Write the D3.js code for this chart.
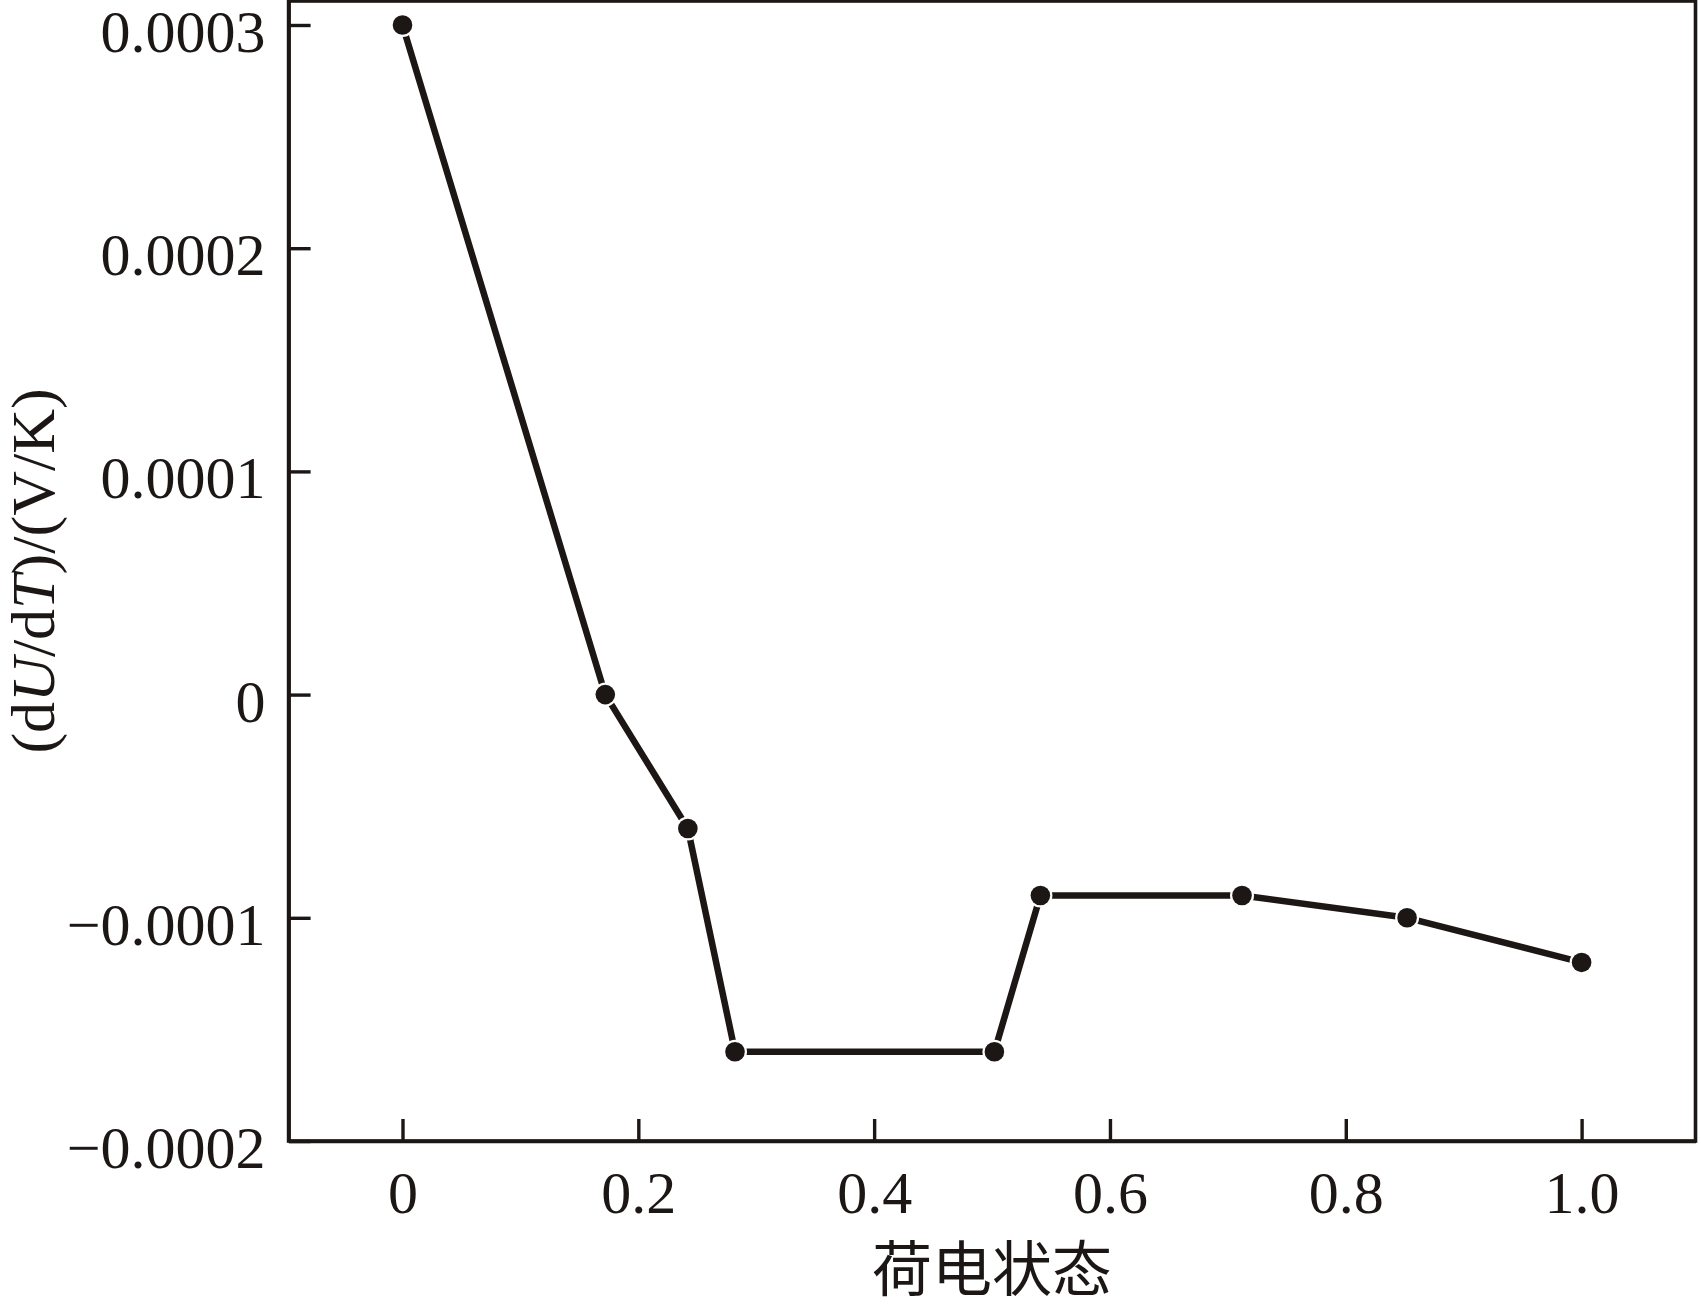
<!DOCTYPE html>
<html>
<head>
<meta charset="utf-8">
<script src="https://cdn.jsdelivr.net/npm/d3@7"></script>
<style>
  html, body { margin: 0; padding: 0; background: #fff; }
  svg { display: block; }
  .axis path, .axis line { stroke: #1c1715; }
  .axis text { font-family: "Liberation Serif", "DejaVu Serif", serif; fill: #1c1715; }
</style>
</head>
<body>
<div id="chart"></div>
<script>
// state of charge vs dU/dT
const soc = [0, 0.172, 0.242, 0.282, 0.502, 0.541, 0.712, 0.852, 1.0];
const dUdT = [0.0003, 0, -0.00006, -0.00016, -0.00016, -0.00009, -0.00009, -0.0001, -0.00012];

const xTicks = [0, 0.2, 0.4, 0.6, 0.8, 1.0];
const xTickLabels = ['0', '0.2', '0.4', '0.6', '0.8', '1.0'];
const yTicks = [0.0003, 0.0002, 0.0001, 0, -0.0001, -0.0002];
const yTickLabels = ['0.0003', '0.0002', '0.0001', '0', '\u22120.0001', '\u22120.0002'];

const xTitle = '荷电状态';

function createChart() {
  const width = 1701;
  const height = 1310;
  const margin = { top: 1, right: 5.5, bottom: 169, left: 288.6 };
  const ink = '#1c1715';

  const usable = {
    left: margin.left,
    right: width - margin.right,
    top: margin.top,
    bottom: height - margin.bottom,
  };

  const xScale = d3.scaleLinear().domain([-0.0966, 1.0966]).range([usable.left, usable.right]);
  const yScale = d3.scaleLinear().domain([-0.0002, 0.00031075]).range([usable.bottom, usable.top]);

  const svg = d3.select('#chart')
    .append('svg')
    .attr('width', width)
    .attr('height', height)
    .attr('viewBox', `0 0 ${width} ${height}`);

  // frame (top and right sides)
  svg.append('rect')
    .attr('x', usable.left)
    .attr('y', usable.top)
    .attr('width', usable.right - usable.left)
    .attr('height', usable.bottom - usable.top)
    .attr('fill', 'none')
    .attr('stroke', ink)
    .attr('stroke-width', 3.6);

  // axes, ticks pointing inward
  const xAxis = d3.axisBottom(xScale)
    .tickValues(xTicks)
    .tickFormat((d, i) => xTickLabels[i])
    .tickSizeInner(-22)
    .tickSizeOuter(0)
    .tickPadding(29);

  const gx = svg.append('g')
    .attr('class', 'axis')
    .attr('transform', `translate(0, ${usable.bottom})`)
    .call(xAxis);
  gx.select('.domain').attr('stroke-width', 3.6);
  gx.selectAll('.tick line').attr('stroke-width', 3.4);
  gx.selectAll('.tick text').attr('font-size', 60).attr('dy', '0.71em');

  const yAxis = d3.axisLeft(yScale)
    .tickValues(yTicks)
    .tickFormat((d, i) => yTickLabels[i])
    .tickSizeInner(-22)
    .tickSizeOuter(0)
    .tickPadding(23);

  const gy = svg.append('g')
    .attr('class', 'axis')
    .attr('transform', `translate(${usable.left}, 0)`)
    .call(yAxis);
  gy.select('.domain').attr('stroke-width', 3.6);
  gy.selectAll('.tick line').attr('stroke-width', 3.4);
  gy.selectAll('.tick text').attr('font-size', 60).attr('dy', '0.44em');

  // axis titles
  svg.append('text')
    .attr('x', (usable.left + usable.right) / 2)
    .attr('y', 1291)
    .attr('text-anchor', 'middle')
    .attr('font-family', '"Noto Sans CJK SC", sans-serif')
    .attr('font-size', 60)
    .attr('fill', ink)
    .text(xTitle);

  const yTitle = svg.append('text')
    .attr('transform', `translate(54, ${(usable.top + usable.bottom) / 2}) rotate(-90)`)
    .attr('text-anchor', 'middle')
    .attr('font-family', '"Liberation Serif", serif')
    .attr('font-size', 62)
    .attr('fill', ink);
  yTitle.append('tspan').text('(d');
  yTitle.append('tspan').attr('font-style', 'italic').text('U');
  yTitle.append('tspan').text('/d');
  yTitle.append('tspan').attr('font-style', 'italic').text('T');
  yTitle.append('tspan').text(')/(V/K)');

  // data line
  const points = soc.map((s, i) => ({ x: s, y: dUdT[i] }));

  const line = d3.line()
    .x((d) => xScale(d.x))
    .y((d) => yScale(d.y));

  svg.append('path')
    .datum(points)
    .attr('fill', 'none')
    .attr('stroke', ink)
    .attr('stroke-width', 6.5)
    .attr('stroke-linejoin', 'round')
    .attr('d', line);

  const dots = svg.append('g').attr('class', 'dots');

  // small white halo so the line stops just short of each dot
  dots.selectAll('circle.halo')
    .data(points)
    .join('circle')
    .attr('class', 'halo')
    .attr('cx', (d) => xScale(d.x))
    .attr('cy', (d) => yScale(d.y))
    .attr('r', 12)
    .attr('fill', '#fff');

  dots.selectAll('circle.dot')
    .data(points)
    .join('circle')
    .attr('class', 'dot')
    .attr('cx', (d) => xScale(d.x))
    .attr('cy', (d) => yScale(d.y))
    .attr('r', 9.8)
    .attr('fill', ink);
}

createChart();
</script>
</body>
</html>
